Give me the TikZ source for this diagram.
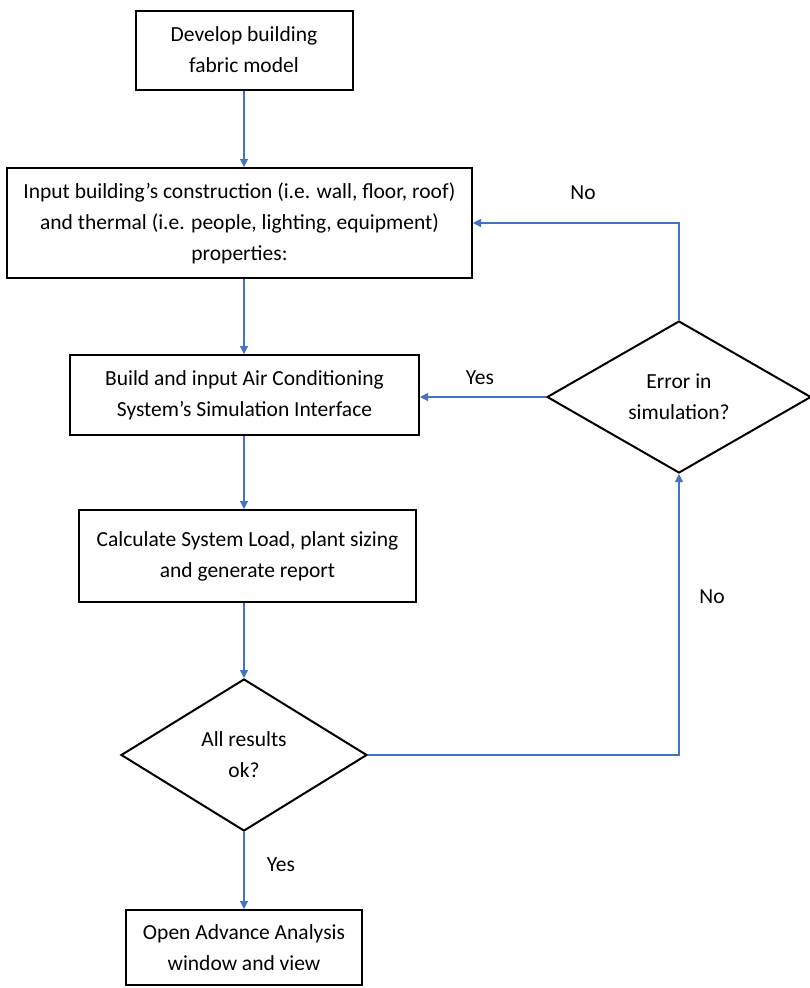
\documentclass[tikz,border=0pt]{standalone}
\usepackage{fontspec}
\setmainfont{Carlito}
\usepackage{xcolor}
\usetikzlibrary{shapes.geometric,arrows.meta}

\definecolor{flowblue}{HTML}{4472C4}

\begin{document}
\begin{tikzpicture}[
   x=1pt, y=-1pt,
   font=\fontsize{21.5}{31}\selectfont,
   procbox/.style={draw, line width=2pt, align=center, inner sep=0pt},
   decision/.style={draw, diamond, line width=2pt, align=center, inner sep=0pt},
   flow/.style={draw=flowblue, line width=1.1pt, -{Triangle[length=8pt,width=8pt]}},
   ]
   \useasboundingbox (0,0) rectangle (809,988);

   % main column
   \node[procbox, minimum width=217pt, minimum height=79pt] (fabric) at (244,50)
      {Develop building\\fabric model};
   \node[procbox, minimum width=465pt, minimum height=110pt] (props) at (239.5,223)
      {Input building’s construction (i.e. wall, floor, roof)\\and thermal (i.e. people, lighting, equipment)\\properties:};
   \node[procbox, minimum width=349pt, minimum height=80pt] (aircon) at (244.5,395)
      {Build and input Air Conditioning\\System’s Simulation Interface};
   \node[procbox, minimum width=337pt, minimum height=92pt] (load) at (247.5,556)
      {Calculate System Load, plant sizing\\and generate report};
   \node[decision, minimum width=246pt, minimum height=152pt] (results) at (244,755)
      {All results\\ok?};
   \node[procbox, minimum width=236pt, minimum height=75pt] (advance) at (244,947.5)
      {Open Advance Analysis\\window and view};

   % check on the right
   \node[decision, minimum width=264pt, minimum height=152pt] (error) at (679,397)
      {Error in\\simulation?};

   % connectors
   \draw[flow] (fabric.south) -- (fabric.south |- props.north);
   \draw[flow] (fabric.south |- props.south) -- (aircon.north -| fabric.south);
   \draw[flow] (fabric.south |- aircon.south) -- (load.north -| fabric.south);
   \draw[flow] (results.north |- load.south) -- (results.north);
   \draw[flow] (results.south) -- (advance.north);
   \draw[flow] (results.east) -| (error.south);
   \draw[flow] (error.west) -- (error.west -| aircon.east);
   \draw[flow] (error.north) |- (props.east);

   % branch labels
   \node (yes1) at (281,865) {Yes};
   \node (no1) at (712,597) {No};
   \node (yes2) at (480,378) {Yes};
   \node (no2) at (583,193) {No};
\end{tikzpicture}
\end{document}
